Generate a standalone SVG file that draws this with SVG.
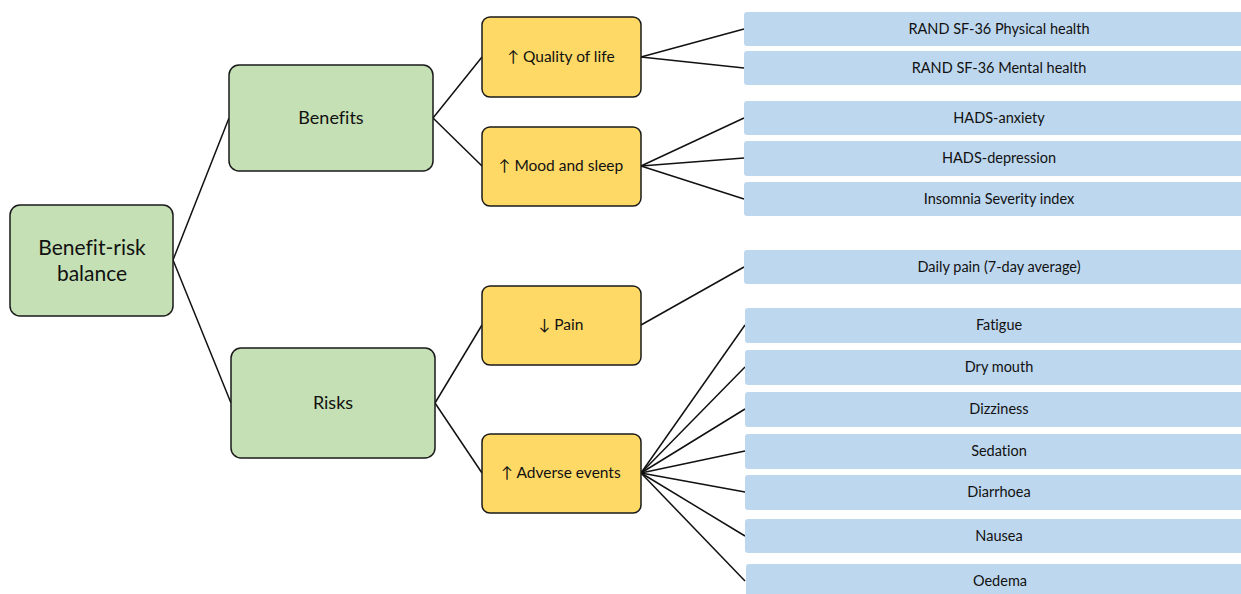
<svg xmlns="http://www.w3.org/2000/svg" width="1241" height="594" viewBox="0 0 1241 594">
<style>
text{font-family:Lato,"Open Sans","Liberation Sans",sans-serif;fill:#111;text-anchor:middle;dominant-baseline:central;font-variant-ligatures:none;font-feature-settings:"liga" 0,"clig" 0}
.g{fill:#c5e0b4;stroke:#1a1a1a;stroke-width:1.5}
.y{fill:#ffd966;stroke:#1a1a1a;stroke-width:1.5}
.b{fill:#bdd7ee}
.l{font-size:21px}
.m{font-size:18px}
.s{font-size:15.5px}
.t{font-size:14.5px}
.c line{stroke:#111;stroke-width:1.5}
</style>
<rect width="1241" height="594" fill="#fff"/>
<g class="c" id="connectors">
<line x1="173" y1="260" x2="229" y2="118"/>
<line x1="173" y1="260" x2="231" y2="403"/>
<line x1="433" y1="118" x2="482" y2="57"/>
<line x1="433" y1="118" x2="482" y2="166"/>
<line x1="435" y1="403" x2="482" y2="325"/>
<line x1="435" y1="403" x2="482" y2="473"/>
<line x1="641" y1="57" x2="744" y2="29"/>
<line x1="641" y1="57" x2="744" y2="68"/>
<line x1="641" y1="166" x2="744" y2="118"/>
<line x1="641" y1="166" x2="744" y2="158"/>
<line x1="641" y1="166" x2="744" y2="199"/>
<line x1="641" y1="325" x2="744" y2="267"/>
<line x1="641" y1="473" x2="745" y2="325"/>
<line x1="641" y1="473" x2="745" y2="367"/>
<line x1="641" y1="473" x2="745" y2="409"/>
<line x1="641" y1="473" x2="745" y2="451"/>
<line x1="641" y1="473" x2="745" y2="492"/>
<line x1="641" y1="473" x2="745" y2="536"/>
<line x1="641" y1="473" x2="745" y2="581"/>
</g>
<g id="root"><rect class="g" x="10" y="205" width="163" height="111" rx="10"/><text class="l" x="92" y="246">Benefit-risk</text><text class="l" x="92" y="272">balance</text></g>
<g id="benefits"><rect class="g" x="229" y="65" width="204" height="106" rx="10"/><text class="m" x="331" y="117">Benefits</text></g>
<g id="risks"><rect class="g" x="231" y="348" width="204" height="110" rx="10"/><text class="m" x="333" y="402">Risks</text></g>
<g id="qol"><rect class="y" x="482" y="17" width="159" height="80" rx="8"/><text class="s" x="561" y="56">↑ Quality of life</text></g>
<g id="mood"><rect class="y" x="482" y="127" width="159" height="79" rx="8"/><text class="s" x="561" y="165">↑ Mood and sleep</text></g>
<g id="pain"><rect class="y" x="482" y="286" width="159" height="79" rx="8"/><text class="s" x="561" y="324">↓ Pain</text></g>
<g id="ae"><rect class="y" x="482" y="434" width="159" height="79" rx="8"/><text class="s" x="561" y="472">↑ Adverse events</text></g>
<g id="rand-phys"><rect class="b" x="744" y="12" width="510" height="34" rx="3"/><text class="t" x="999" y="28">RAND SF-36 Physical health</text></g>
<g id="rand-mental"><rect class="b" x="744" y="51" width="510" height="34" rx="3"/><text class="t" x="999" y="67">RAND SF-36 Mental health</text></g>
<g id="hads-a"><rect class="b" x="744" y="101" width="510" height="34" rx="3"/><text class="t" x="999" y="117">HADS-anxiety</text></g>
<g id="hads-d"><rect class="b" x="744" y="141" width="510" height="35" rx="3"/><text class="t" x="999" y="157">HADS-depression</text></g>
<g id="isi"><rect class="b" x="744" y="182" width="510" height="34" rx="3"/><text class="t" x="999" y="198">Insomnia Severity index</text></g>
<g id="daily-pain"><rect class="b" x="744" y="250" width="510" height="34" rx="3"/><text class="t" x="999" y="266">Daily pain (7-day average)</text></g>
<g id="fatigue"><rect class="b" x="745" y="308" width="510" height="35" rx="3"/><text class="t" x="999" y="324">Fatigue</text></g>
<g id="dry-mouth"><rect class="b" x="745" y="350" width="510" height="35" rx="3"/><text class="t" x="999" y="366">Dry mouth</text></g>
<g id="dizziness"><rect class="b" x="745" y="392" width="510" height="35" rx="3"/><text class="t" x="999" y="408">Dizziness</text></g>
<g id="sedation"><rect class="b" x="745" y="434" width="510" height="35" rx="3"/><text class="t" x="999" y="450">Sedation</text></g>
<g id="diarrhoea"><rect class="b" x="745" y="475" width="510" height="35" rx="3"/><text class="t" x="999" y="491">Diarrhoea</text></g>
<g id="nausea"><rect class="b" x="745" y="519" width="510" height="34" rx="3"/><text class="t" x="999" y="535">Nausea</text></g>
<g id="oedema"><rect class="b" x="746" y="564" width="510" height="40" rx="3"/><text class="t" x="1000" y="580">Oedema</text></g>
</svg>
